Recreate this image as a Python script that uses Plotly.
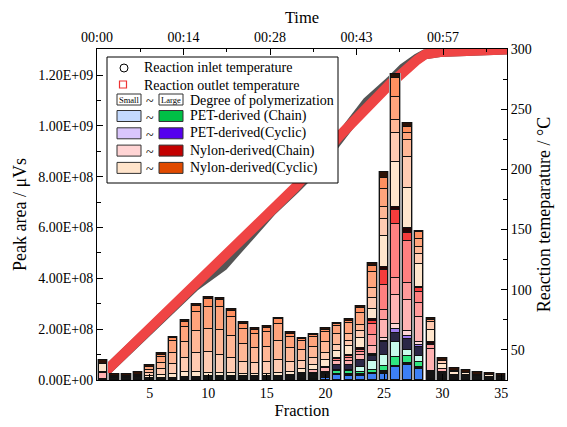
import plotly.graph_objects as go

# ---------------- data ----------------
fractions = list(range(1, 36))
AREA_UNIT = 1e8  # series values below are in units of 1e8 μVs

pet_blue   = [0,0,0,0,0,0,0,0,0,0, 0,0,0,0,0,0,0,0.03,0.05,0.08, 0.18,0.17,0.17,0.22,0.24,0.50,0.60,0.45,0.04,0.03, 0,0,0,0,0]
base_black = [0.03,0.08,0.08,0.10,0.08,0.08,0.08,0.10,0.12,0.15, 0.15,0.15,0.15,0.15,0.15,0.15,0.18,0.25,0.20,0.15, 0.05,0.05,0.05,0.05,0.10,0.05,0.05,0.05,0.30,0.30, 0.20,0.18,0.15,0.13,0.11]
pet_green  = [0,0,0,0,0,0,0,0,0,0, 0,0,0,0,0,0,0,0,0.03,0.05, 0.12,0.13,0.08,0.13,0.20,0.35,0.28,0.20,0,0, 0,0,0,0,0]
pet_mint   = [0,0,0,0,0,0,0,0,0,0, 0,0,0,0,0,0,0,0,0,0, 0.05,0.05,0.20,0.33,0.46,0.60,0.24,0.26,0,0, 0,0,0,0,0]
pet_dark   = [0,0,0,0,0,0,0,0,0,0, 0,0,0,0,0,0,0,0,0,0.05, 0.18,0.20,0.30,0.22,0.50,0.34,0.46,0.34,0,0, 0,0,0,0,0]
pet_purple = [0,0,0,0,0,0,0,0,0,0, 0,0,0,0,0,0,0,0,0,0, 0,0,0,0.04,0.05,0.15,0.10,0.07,0,0, 0,0,0,0,0]
nyc_1      = [0,0,0,0,0,0,0,0,0,0, 0,0,0,0,0,0,0,0,0,0, 0,0,0,0.05,0.10,0.20,0.20,0.13,0,0, 0,0,0,0,0]
nyc_2      = [0.25,0,0,0,0,0,0,0,0,0, 0,0,0,0,0,0,0,0,0.10,0.15, 0.15,0.15,0.20,0.30,0.70,1.15,1.22,0.99,0.90,0.10, 0,0,0,0,0]
nyc_3      = [0,0,0,0,0,0,0,0,0,0, 0,0,0,0,0,0,0,0,0,0, 0,0.10,0.10,0.45,0.40,0.68,0.67,0.53,0.12,0, 0,0,0,0,0]
nyc_4      = [0,0,0,0,0,0,0,0,0,0, 0,0,0,0,0,0,0,0,0,0.05, 0.08,0.10,0.10,0.40,1.00,2.13,1.66,0.46,0,0, 0,0,0,0,0]
nyc_5      = [0,0,0,0,0,0,0,0,0,0, 0,0,0,0,0,0,0,0,0,0, 0,0,0,0.13,0.60,0.53,0.32,0.13,0.06,0, 0,0,0,0,0]
nyc_6      = [0.04,0,0,0,0,0,0,0,0,0, 0,0,0,0,0,0,0,0,0,0, 0.05,0.05,0.05,0.07,0.10,0.13,0.20,0.07,0.06,0, 0,0,0,0,0]
nyy_1      = [0.30,0.04,0.04,0.05,0.08,0.12,0.15,0.20,0.20,0.12, 0.12,0.12,0.10,0.10,0.10,0.12,0.12,0.15,0.20,0.25, 0.30,0.33,0.40,0.40,1.20,1.78,1.54,0.88,0.50,0.20, 0.10,0.08,0.06,0.05,0.04]
nyy_2      = [0,0.04,0.04,0.05,0.12,0.22,0.40,0.55,0.75,0.85, 0.70,0.60,0.45,0.40,0.45,0.50,0.40,0.30,0.30,0.30, 0.20,0.20,0.27,0.45,0.70,1.13,1.22,0.40,0.30,0.10, 0.06,0,0,0,0]
nyy_3      = [0,0,0,0,0.12,0.25,0.45,0.65,0.85,0.90, 1.00,0.85,0.70,0.60,0.60,0.75,0.55,0.45,0.40,0.40, 0.45,0.30,0.25,0.40,0.46,0.51,0.67,0.26,0,0, 0,0,0,0,0]
nyy_4      = [0,0,0,0,0.12,0.25,0.45,0.60,0.75,0.85, 0.90,0.75,0.60,0.55,0.58,0.70,0.45,0.35,0.40,0.40, 0.30,0.40,0.45,0.61,0.70,0.91,0.30,0.33,0.08,0, 0,0,0,0,0]
nyy_5      = [0,0,0,0,0,0.08,0.12,0.20,0.25,0.30, 0.27,0.25,0.22,0.18,0.18,0.17,0.13,0.07,0.08,0.10, 0.08,0.10,0.20,0.25,0.46,0.74,0.23,0.26,0,0, 0,0,0,0,0]
nyy_6      = [0.18,0.08,0.08,0.10,0.08,0.05,0.06,0.07,0.08,0.08, 0.08,0.08,0.07,0.07,0.07,0.07,0.07,0.07,0.07,0.08, 0.07,0.08,0.10,0.10,0.20,0.15,0.16,0.07,0.08,0.13, 0.10,0.12,0.09,0.08,0.07]

# temperature (time in minutes)
outlet_time = [1.3, 16.3, 33.0, 40.4, 48.8, 53.3, 54.6, 57.1, 62.1, 68.3]
outlet_temp = [31.5, 104, 185, 228, 271, 291, 295.5, 297.5, 298.5, 299.5]
inlet_time  = [1.3, 16.3, 21.0, 25.5, 29.0, 33.0, 37.0, 40.4, 45.0, 48.8, 51.0, 53.3, 54.6, 57.1, 62.1, 68.3]
inlet_temp  = [31.5, 103, 120, 145, 165, 184, 204, 226, 256, 273, 284, 292, 295.5, 297.5, 298.5, 299.5]

time_tick_vals = [0, 14.4, 28.8, 43.2, 57.6]
time_tick_text = ["00:00", "00:14", "00:28", "00:43", "00:57"]
area_tick_vals = [0, 2e8, 4e8, 6e8, 8e8, 1e9, 1.2e9]
area_tick_text = ["0.00E+00", "2.00E+08", "4.00E+08", "6.00E+08", "8.00E+08", "1.00E+09", "1.20E+09"]
temp_tick_vals = [50, 100, 150, 200, 250, 300]
frac_tick_vals = [5, 10, 15, 20, 25, 30, 35]

legend_rows = ["PET-derived (Chain)", "PET-derived(Cyclic)", "Nylon-derived(Chain)", "Nylon-derived(Cyclic)"]
legend_light = ["#c4dafe", "#dac6fc", "#ffd4d4", "#ffe4cb"]
legend_dark = ["#00c046", "#5500ee", "#c30000", "#e04a00"]

stack = [
    (pet_blue, "#3d80f5"), (base_black, "#141414"), (pet_green, "#2fe680"),
    (pet_mint, "#c8fcec"), (pet_dark, "#2b2746"), (pet_purple, "#9f7df0"),
    (nyc_1, "#ffd6d6"), (nyc_2, "#ffb3b3"), (nyc_3, "#ff9a9a"), (nyc_4, "#ff8080"),
    (nyc_5, "#f43c3c"), (nyc_6, "#260404"),
    (nyy_1, "#ffe6cd"), (nyy_2, "#ffcbb2"), (nyy_3, "#ffb796"), (nyy_4, "#ffa47c"),
    (nyy_5, "#ff9060"), (nyy_6, "#2e1206"),
]

FONT = "Liberation Serif"
fig = go.Figure()

# temperatures on base subplot (drawn beneath bars)
fig.add_trace(go.Scatter(x=inlet_time, y=inlet_temp, mode="lines", xaxis="x", yaxis="y",
                         line=dict(color="#555555", width=10), showlegend=False, hoverinfo="skip"))
fig.add_trace(go.Scatter(x=outlet_time, y=outlet_temp, mode="lines", xaxis="x", yaxis="y",
                         line=dict(color="#ef4444", width=10), showlegend=False, hoverinfo="skip"))

# grey halo behind each bar
totals = [sum(s[i] for s, _ in stack) * AREA_UNIT for i in range(len(fractions))]
fig.add_trace(go.Bar(x=fractions, y=totals, xaxis="x2", yaxis="y2", width=0.9,
                     marker=dict(color="#a8a8a8", line=dict(color="#a8a8a8", width=1.5)),
                     showlegend=False, hoverinfo="skip"))

for vals, col in stack:
    fig.add_trace(go.Bar(x=fractions, y=[v * AREA_UNIT if v else None for v in vals],
                         xaxis="x3", yaxis="y3", width=0.74,
                         marker=dict(color=col, line=dict(color="#111111", width=1)),
                         showlegend=False))

L, R, T, B = 97, 507, 49, 380
W, H = 567, 427
def px(x):
    return (x - L) / (R - L)
def py(y):
    return (B - y) / (B - T)

LEG = 14
shapes = []
ann = []
shapes.append(dict(type="rect", xref="paper", yref="paper", x0=px(107), x1=px(338), y0=py(57), y1=py(183),
                   line=dict(color="black", width=1), fillcolor="white", layer="above"))
shapes.append(dict(type="circle", xref="paper", yref="paper", x0=px(120), x1=px(128), y0=py(64), y1=py(72),
                   line=dict(color="black", width=1), layer="above"))
shapes.append(dict(type="rect", xref="paper", yref="paper", x0=px(119.5), x1=px(126.5), y0=py(81), y1=py(88),
                   line=dict(color="#ee3333", width=1.2), layer="above"))
ann.append(dict(text="Reaction inlet temperature", x=px(142), y=py(68)))
ann.append(dict(text="Reaction outlet temperature", x=px(142), y=py(85)))
for x0, label in [(117, "Small"), (159, "Large")]:
    shapes.append(dict(type="rect", xref="paper", yref="paper", x0=px(x0), x1=px(x0 + 24), y0=py(94), y1=py(105),
                       line=dict(color="#333333", width=1), fillcolor="white", layer="above"))
    ann.append(dict(text=label, x=px(x0 + 12), y=py(99.5), xanchor="center",
                    font=dict(size=8.5, family=FONT, color="black")))
ann.append(dict(text="~", x=px(150), y=py(101), xanchor="center"))
ann.append(dict(text="Degree of polymerization", x=px(188), y=py(100)))
for i, (name, lc, dc) in enumerate(zip(legend_rows, legend_light, legend_dark)):
    yc = 116 + i * 17.3
    shapes.append(dict(type="rect", xref="paper", yref="paper", x0=px(117), x1=px(141), y0=py(yc - 5.5), y1=py(yc + 5.5),
                       line=dict(color="#333333", width=1), fillcolor=lc, layer="above"))
    shapes.append(dict(type="rect", xref="paper", yref="paper", x0=px(159), x1=px(183), y0=py(yc - 5.5), y1=py(yc + 5.5),
                       line=dict(color="#333333", width=1), fillcolor=dc, layer="above"))
    ann.append(dict(text="~", x=px(150), y=py(yc + 2), xanchor="center"))
    ann.append(dict(text=name, x=px(188), y=py(yc)))

annotations = []
for a in ann:
    d = dict(xref="paper", yref="paper", showarrow=False, xanchor="left", yanchor="middle",
             font=dict(size=LEG, family=FONT, color="black"))
    d.update(a)
    annotations.append(d)

tickfont = dict(size=14, family=FONT, color="black")
titlefont = dict(size=16.5, family=FONT, color="black")
vtitlefont = dict(size=18, family=FONT, color="black")
common = dict(showline=True, linecolor="black", linewidth=1, ticks="inside", ticklen=6,
              tickcolor="black", showgrid=False, zeroline=False, tickfont=tickfont)

fig.update_layout(
    width=W, height=H, margin=dict(l=L, r=W - R, t=T, b=H - B),
    plot_bgcolor="white", paper_bgcolor="white", barmode="stack", bargap=0,
    showlegend=False,
    xaxis=dict(side="top", range=[0, 68.25], tickvals=time_tick_vals, ticktext=time_tick_text,
               minor=dict(ticks="inside", dtick=7.2, tick0=0, ticklen=3, tickcolor="black"),
               title=dict(text="Time", font=titlefont, standoff=2), **common),
    yaxis=dict(side="right", range=[25, 300], tickvals=temp_tick_vals,
               minor=dict(ticks="inside", dtick=25, tick0=0, ticklen=4, tickcolor="black"),
               title=dict(text="Reaction temeparature / °C", font=vtitlefont, standoff=6), **common),
    xaxis2=dict(overlaying="x", side="bottom", range=[0.5, 35.5], tickvals=frac_tick_vals,
                title=dict(text="Fraction", font=titlefont, standoff=4), **common),
    yaxis2=dict(overlaying="y", side="left", range=[0, 1.303e9], tickvals=area_tick_vals, ticktext=area_tick_text,
                minor=dict(ticks="inside", dtick=1e8, tick0=0, ticklen=4, tickcolor="black"),
                title=dict(text="Peak area / μVs", font=vtitlefont, standoff=6), **common),
    xaxis3=dict(overlaying="x", range=[0.5, 35.5], visible=False),
    yaxis3=dict(overlaying="y", range=[0, 1.303e9], visible=False),
    shapes=shapes, annotations=annotations,
)

fig.write_html("out.html", config={"displayModeBar": False},
               post_script="document.body.style.margin='0';")
